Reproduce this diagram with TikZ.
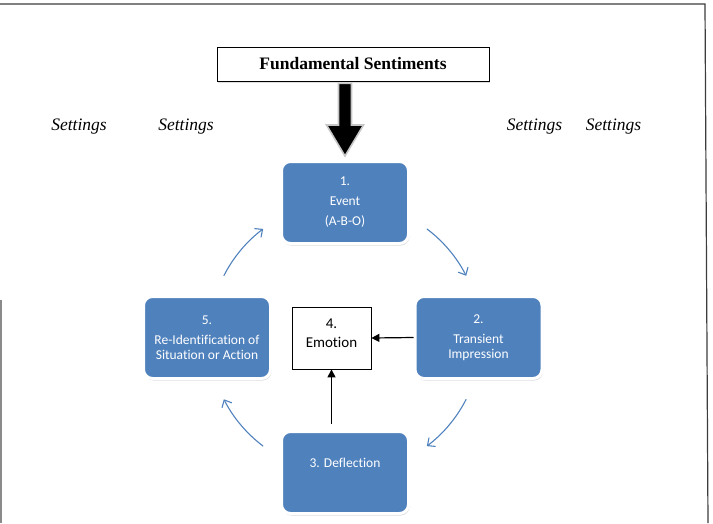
\documentclass[tikz,border=0pt]{standalone}
\usepackage{fontspec}
\setmainfont{Liberation Serif}
\newfontfamily\calibri[Ligatures=NoCommon]{Carlito}
\usetikzlibrary{arrows.meta,shadows,calc}

\definecolor{cycBlue}{HTML}{4F81BD}
\definecolor{cycFrame}{HTML}{3C3C3C}

\tikzset{
  stage/.style={rounded corners=9pt, fill=cycBlue, draw=white, line width=3pt,
    minimum width=127pt, minimum height=82pt, inner sep=0pt, text=white,
    align=center, font=\calibri\fontsize{13.5}{15}\selectfont,
    drop shadow={shadow xshift=1pt, shadow yshift=-2pt, opacity=0.3}},
  feed/.style={draw=black, line width=1.2pt, -{Triangle[length=8pt,width=8pt]}},
  cyc/.style={draw=cycBlue, line width=1.1pt, -{Straight Barb[length=6pt,width=11pt]}},
  setting/.style={font=\fontsize{17.5}{20}\selectfont\itshape}
}

\begin{document}
\begin{tikzpicture}[x=1pt,y=1pt]
  \useasboundingbox (0,0) rectangle (713,-523);

  % Frame
  \draw[cycFrame, line width=1.2pt] (0,-4) -- (705,-4) -- (708,-523);
  \draw[cycFrame!60, line width=1.2pt] (1,-300) -- (1,-523);

  % Settings
  \node[setting] (s1) at (79,-127) {Settings};
  \node[setting] (s2) at (186,-127) {Settings};
  \node[setting] (s3) at (534.5,-127) {Settings};
  \node[setting] (s4) at (613.5,-127) {Settings};

  % Fundamental sentiments
  \node[draw, line width=0.8pt, fill=white, minimum width=272pt, minimum height=34pt,
    font=\fontsize{17.5}{20}\selectfont\bfseries,
    drop shadow={shadow xshift=1pt, shadow yshift=-1.5pt, opacity=0.25}]
    (fs) at (353,-64) {Fundamental Sentiments};

  % Stages
  \node[stage] (ev) at (345,-202.5) {1.\\[5pt]Event\\[5pt](A-B-O)};
  \node[stage] (tr) at (478.5,-337.5) {2.\\[5pt]Transient\\Impression};
  \node[stage] (dfl) at (345,-472.5) {3. Deflection\\[4pt]\mbox{}};
  \node[stage] (rid) at (207,-337.5) {5.\\[5pt]Re-Identification of\\Situation or Action};

  \node[draw, line width=0.8pt, fill=white, minimum width=79pt, minimum height=62pt,
    align=center, font=\calibri\fontsize{15}{19}\selectfont]
    (emo) at (331.5,-338) {4.\\Emotion\\[-9pt]\mbox{}};

  % Fat arrow
  \coordinate (fa) at (ev.north |- fs.south);
  \draw[fill=black, draw=gray!45, line width=1.6pt, line join=miter]
    ($(fa)+(-6.5,-2)$) -- ($(ev.north)+(-6.5,35)$) -- ($(ev.north)+(-18.5,35)$)
    -- ($(ev.north)+(0,4)$) -- ($(ev.north)+(18.5,35)$) -- ($(ev.north)+(6.5,35)$)
    -- ($(fa)+(6.5,-2)$) -- cycle;

  % Feeds into emotion
  \draw[feed] (tr.west) -- (emo.east);
  \draw[feed, shorten <=6pt] (emo.south |- dfl.north) -- (emo.south);

  % Cycle
  \coordinate (hub) at (ev |- tr);
  \foreach \s/\e in {53/27, -27/-53, -127/-153, 153/127}
    \draw[cyc] ($(hub)+(\s:136)$) arc[start angle=\s, end angle=\e, radius=136];

\end{tikzpicture}
\end{document}
